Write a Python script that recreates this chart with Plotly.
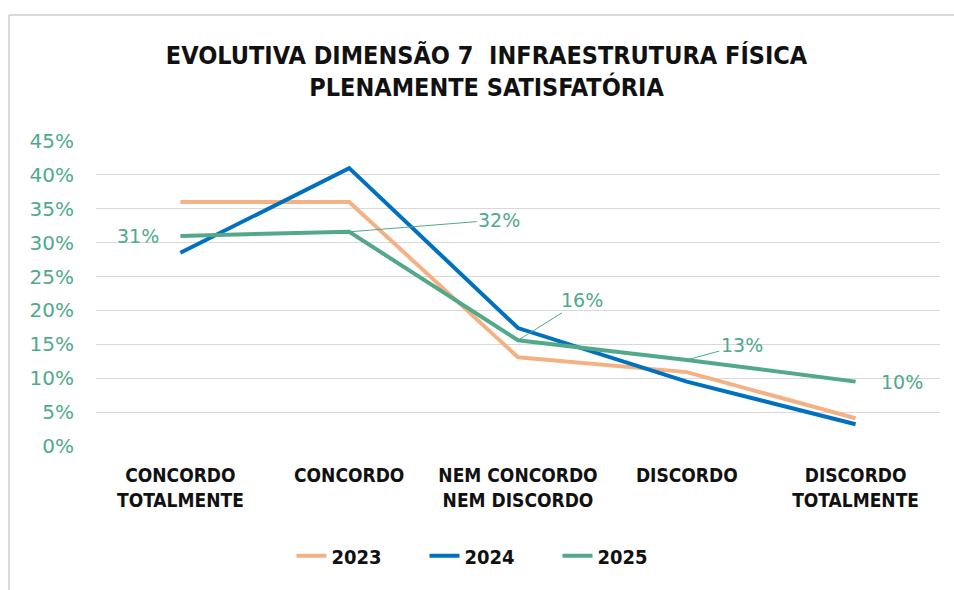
import plotly.graph_objects as go

categories = ["CONCORDO<br>TOTALMENTE", "CONCORDO", "NEM CONCORDO<br>NEM DISCORDO", "DISCORDO", "DISCORDO<br>TOTALMENTE"]
v2023 = [0.36, 0.36, 0.131, 0.109, 0.041]
v2024 = [0.285, 0.41, 0.174, 0.095, 0.032]
v2025 = [0.31, 0.316, 0.156, 0.127, 0.095]
labels2025 = ["31%", "32%", "16%", "13%", "10%"]
tick_vals = [0, 0.05, 0.10, 0.15, 0.20, 0.25, 0.30, 0.35, 0.40, 0.45]
tick_text = ["0%", "5%", "10%", "15%", "20%", "25%", "30%", "35%", "40%", "45%"]

C23 = "#F4B183"
C24 = "#0070C0"
C25 = "#52A98A"
LBL = "#4FAA8C"
COND = "'DejaVu Sans Condensed', 'Liberation Sans Narrow', sans-serif"

fig = go.Figure()
for name, vals, col in [("2023", v2023, C23), ("2024", v2024, C24), ("2025", v2025, C25)]:
    fig.add_trace(go.Scatter(x=categories, y=vals, name=name, mode="lines",
                             line=dict(color=col, width=4)))

# data labels for 2025 (offsets: dx, dy, leader)
offsets = [(-42, 0, False), (150, -12, True), (64, -40, True), (55, -15, True), (46, 0, False)]
for cat, val, txt, (dx, dy, leader) in zip(categories, v2025, labels2025, offsets):
    if leader:
        fig.add_annotation(x=cat, y=val, text=txt, showarrow=True, arrowhead=0,
                           arrowwidth=1, arrowcolor=LBL, ax=dx, ay=dy,
                           font=dict(family="DejaVu Sans", size=19, color=LBL))
    else:
        fig.add_annotation(x=cat, y=val, text=txt, showarrow=False, xshift=dx, yshift=-dy,
                           font=dict(family="DejaVu Sans", size=19, color=LBL))

# chart frame (top and left edges visible)
fig.add_shape(type="line", xref="paper", yref="paper", x0=-0.103, x1=1.5, y0=1.413, y1=1.413,
              line=dict(color="#D9D9D9", width=2), layer="below")
fig.add_shape(type="line", xref="paper", yref="paper", x0=-0.103, x1=-0.103, y0=-0.8, y1=1.413,
              line=dict(color="#D9D9D9", width=2), layer="below")

fig.update_layout(
    width=954, height=590,
    margin=dict(l=96, r=14, t=141, b=144),
    paper_bgcolor="white", plot_bgcolor="white",
    title=dict(text="<b>EVOLUTIVA DIMENSÃO 7  INFRAESTRUTURA FÍSICA<br>PLENAMENTE SATISFATÓRIA</b>",
               x=0.51, xanchor="center", y=0.892, yanchor="middle",
               font=dict(family=COND, size=25, color="#111111")),
    showlegend=True,
    legend=dict(orientation="h", x=0.468, xanchor="center", y=-0.36, yanchor="middle",
                font=dict(family=COND, size=20, color="#111111", weight="bold"),
                entrywidth=88, entrywidthmode="pixels", traceorder="normal"),
    xaxis=dict(showgrid=False, showline=False, ticks="", ticklabelstandoff=16,
               tickfont=dict(family=COND, size=19, color="#111111", weight="bold"),
               range=[-0.5, 4.5]),
    yaxis=dict(range=[0, 0.45], tickvals=tick_vals, ticktext=tick_text,
               showgrid=True, gridcolor="#D9D9D9", gridwidth=1.3, zeroline=False,
               showline=False, ticks="", ticklabelstandoff=21,
               tickfont=dict(family="DejaVu Sans", size=20, color=LBL)),
)
fig.write_html("out.html", config={"displayModeBar": False},
               post_script="document.body.style.margin='0';document.body.style.overflow='hidden';")
